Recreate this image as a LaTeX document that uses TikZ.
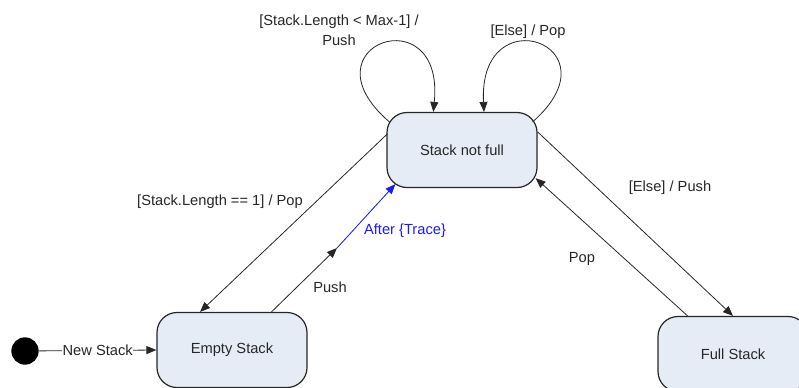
\documentclass[tikz,border=0pt]{standalone}
\usepackage{fontspec}
\setmainfont{Liberation Sans}
\usetikzlibrary{arrows.meta}
\definecolor{statefill}{HTML}{E6ECF6}
\definecolor{ink}{HTML}{262626}
\definecolor{traceblue}{HTML}{1A1AFF}
\tikzset{
  state/.style={draw=ink, line width=0.9pt, fill=statefill, rectangle,
    rounded corners=15pt, minimum width=112.5pt, minimum height=56.25pt,
    font=\fontsize{11}{13}\selectfont, text=ink},
  lbl/.style={font=\fontsize{11}{15}\selectfont, text=ink, inner sep=0pt, align=center},
  trans/.style={draw=ink, line width=0.6pt, -{Triangle[length=7.5pt,width=6pt]}},
}
\begin{document}
\begin{tikzpicture}[x=0.75pt, y=-0.75pt]
  \useasboundingbox (0,0) rectangle (799,387);

  % states
  \node[state] (snf) at (462,150) {Stack not full};
  \node[state] (es)  at (232,350) {Empty Stack};
  \node[state] (fs)  at (733,354) {Full Stack};
  \node[circle, fill=black, minimum size=20.5pt, inner sep=0pt] (init) at (25,351) {};

  % initial transition
  \draw[trans] (init) -- node[midway, fill=white, inner sep=0.5pt, font=\fontsize{11}{13}\selectfont, text=ink] (newlbl) {New Stack} (es.west);

  % self loops on "Stack not full"
  \draw[trans] ([shift={(3,10)}]snf.north west) .. controls (300,45) and (445,-5) .. (snf.127.7);
  \draw[trans] ([shift={(-5,10)}]snf.north east) .. controls (620,45) and (478,-5) .. (snf.60.75);

  % Stack not full -> Empty Stack
  \draw[trans] ([shift={(1,22)}]snf.north west) -- (es.130.5);

  % Empty Stack -> Stack not full (Push, then After {Trace})
  \coordinate (mid) at (337,248);
  \draw[trans] (es.44.6) -- (mid);
  \draw[trans, draw=traceblue, fill=traceblue] (mid) -- ([shift={(9,-4)}]snf.south west);

  % Stack not full <-> Full Stack
  \draw[trans] ([shift={(0,20)}]snf.north east) -- (fs.north);
  \draw[trans] (fs.140.8) -- ([shift={(-2,-10)}]snf.south east);

  % transition labels
  \node[lbl] (l1) at (339,30) {[Stack.Length < Max-1] /\\Push};
  \node[lbl] (l2) at (528,32) {[Else] / Pop};
  \node[lbl] (l3) at (220,202) {[Stack.Length == 1] / Pop};
  \node[lbl] (l4) at (330,287) {Push};
  \node[lbl, text=traceblue] (l5) at (405,231) {After \{Trace\}};
  \node[lbl] (l6) at (670,188) {[Else] / Push};
  \node[lbl] (l7) at (582,259) {Pop};
\end{tikzpicture}
\end{document}
